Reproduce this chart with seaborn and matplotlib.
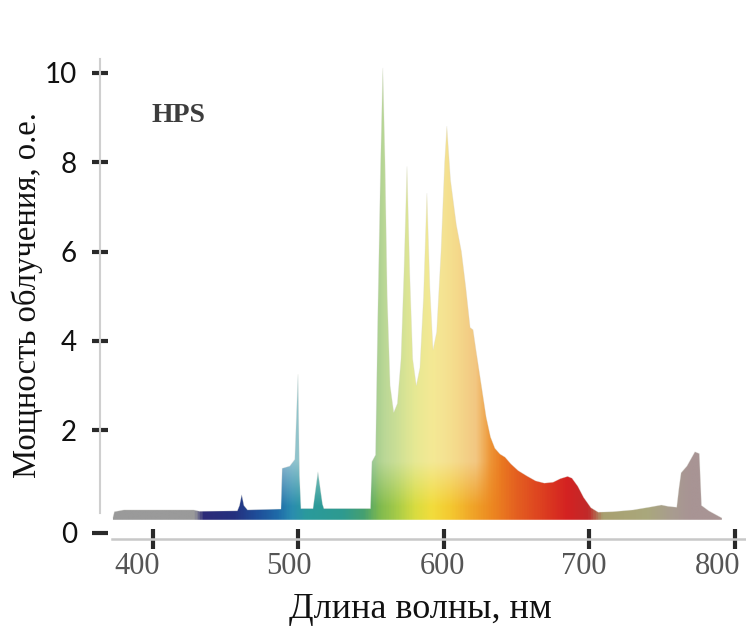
import numpy as np
import pandas as pd
import seaborn as sns
import matplotlib.pyplot as plt
import matplotlib.transforms as mtransforms
from matplotlib.colors import LinearSegmentedColormap, to_rgb

# HPS lamp spectrum
wavelength = [
    372.5, 373.5, 380, 428, 432, 458, 459.5, 461, 462.5, 465,
    488, 488.8, 494, 497.5, 499.7, 500.7, 501.7, 510, 513.4, 516.5,
    517.5, 549.5, 550.5, 553, 554.5, 556.5, 558, 559.5, 561, 563,
    565.5, 568, 570.5, 572.5, 574.6, 576.5, 578.5, 581, 583.5, 586,
    588.3, 590.3, 592.5, 595, 598, 600.5, 602, 604.5, 608.5, 612,
    615, 618, 620, 622, 625.5, 629, 632, 635, 638.5, 642,
    646, 651, 657, 663, 669, 675, 680, 685, 688, 692,
    696, 701, 706, 716, 730, 741, 749.5, 754, 760, 761.5,
    763, 767, 772.5, 775.5, 777, 782, 791,
]
power = [
    0.05, 0.18, 0.22, 0.22, 0.19, 0.2, 0.32, 0.56, 0.32, 0.22,
    0.24, 1.15, 1.2, 1.35, 3.25, 1.0, 0.25, 0.25, 1.07, 0.35,
    0.25, 0.25, 1.3, 1.45, 4.5, 8.0, 10.1, 8.0, 5.0, 3.0,
    2.4, 2.6, 3.6, 5.5, 7.9, 5.5, 3.6, 3.0, 3.4, 5.0,
    7.3, 5.2, 3.8, 4.2, 6.0, 8.0, 8.8, 7.6, 6.6, 6.0,
    5.2, 4.3, 4.25, 3.8, 3.05, 2.3, 1.85, 1.6, 1.47, 1.4,
    1.25, 1.1, 0.98, 0.87, 0.82, 0.84, 0.92, 0.97, 0.93, 0.75,
    0.5, 0.27, 0.17, 0.18, 0.22, 0.28, 0.33, 0.3, 0.28, 0.7,
    1.05, 1.2, 1.52, 1.48, 0.32, 0.2, 0.04,
]

x_ticks = [400, 500, 600, 700, 800]
y_ticks = [2, 4, 6, 8, 10]
y_tick_labels = ["2", "4", "6", "8", "10"]
zero_label = "0"
lamp_name = "HPS"
x_label = "Длина волны, нм"
y_label = "Мощность облучения, о.е."

# colour of the light by wavelength
x_min, x_max = 363.6, 807.6
spectrum_stops = [
    (360, "#9a9a9a"), (428, "#9a9a9a"), (434, "#2c2a78"), (455, "#24307e"),
    (470, "#1f4c98"), (485, "#1e6aa8"), (495, "#2a8cb0"), (505, "#2a9a9c"),
    (530, "#2e9a90"), (545, "#46a070"), (555, "#7cb850"), (568, "#a8cc48"),
    (580, "#d8dc40"), (592, "#f2dc3c"), (605, "#f4c830"), (620, "#f0a428"),
    (635, "#ec8420"), (650, "#e46020"), (670, "#dc3c20"), (685, "#d42222"),
    (700, "#c02a2a"), (710, "#a8a070"), (740, "#aaa87c"), (758, "#a89c90"),
    (770, "#a89494"), (810, "#a89494"),
]
pale_stops = [(360, 0), (478, 0), (485, 0.5), (525, 0.5), (548, 0.35),
              (560, 0.45), (600, 0.5), (622, 0.45), (632, 0.1), (640, 0), (810, 0)]
# scanned labels sit a little left of their ticks (pixels)
x_label_shift = [-16, -10, -2, -6, -17]


def spectrum_image():
    lo, hi = spectrum_stops[0][0], spectrum_stops[-1][0]
    cmap = LinearSegmentedColormap.from_list(
        "light", [((w - lo) / (hi - lo), c) for w, c in spectrum_stops])
    wl_grid = np.linspace(x_min, x_max, 900)
    y_grid = np.linspace(0, 10.5, 600)
    base = cmap((wl_grid - lo) / (hi - lo))[:, :3]
    pale = np.interp(wl_grid, [p[0] for p in pale_stops], [p[1] for p in pale_stops])
    ramp = np.clip((y_grid - 0.3) / 1.0, 0, 1)
    f = (ramp[:, None] * pale[None, :])[..., None]
    tint = np.array(to_rgb("#f6f6f0"))
    return base[None, :, :] * (1 - f) + tint * f


def main():
    sns.set_theme(style="white")
    plt.rcParams["font.family"] = ["Liberation Serif", "DejaVu Sans"]

    df = pd.DataFrame({"wl": wavelength, "power": power})

    fig = plt.figure(figsize=(7.46, 6.26), dpi=100)
    ax = fig.add_axes([100 / 746, 87 / 626, 646 / 746, 511 / 626])
    ax.set_xlim(x_min, x_max)
    ax.set_ylim(-0.43, 11.0)

    area = ax.fill_between(df["wl"], 0, df["power"], facecolor="none", linewidth=0)
    img = ax.imshow(spectrum_image(), extent=[x_min, x_max, 0, 10.5], origin="lower",
                    aspect="auto", interpolation="bilinear", zorder=2)
    img.set_clip_path(area.get_paths()[0], transform=ax.transData)
    sns.lineplot(data=df, x="wl", y="power", ax=ax, color="#d8d8d0",
                 linewidth=0.6, alpha=0.35, zorder=3)
    ax.set_xlabel("")
    ax.set_ylabel("")

    for side in ["top", "right"]:
        ax.spines[side].set_visible(False)
    ax.spines["left"].set_color("#cfcfcf")
    ax.spines["left"].set_linewidth(1.5)
    ax.spines["left"].set_bounds(0.15, 10.3)
    ax.spines["bottom"].set_color("#c8c8c8")
    ax.spines["bottom"].set_linewidth(1.8)
    ax.spines["bottom"].set_bounds(372, x_max)

    ax.set_yticks([-0.29] + y_ticks, [zero_label] + y_tick_labels,
                  fontfamily="Lato", fontsize=20, color="#111111")
    ax.yaxis.get_major_ticks()[0].tick1line.set_visible(False)
    ax.tick_params(axis="y", left=True, direction="inout", length=12, width=3,
                   color="#2a2a2a", pad=10.5)

    ax.set_xticks(x_ticks, [str(t) for t in x_ticks],
                  fontfamily="Liberation Serif", fontsize=22, color="#555555")
    ax.tick_params(axis="x", bottom=True, direction="inout", length=14.5, width=3,
                   color="#2a2a2a", pad=2)
    for lbl, dx in zip(ax.get_xticklabels(), x_label_shift):
        shift = mtransforms.ScaledTranslation(dx / 100, 0, fig.dpi_scale_trans)
        lbl.set_transform(lbl.get_transform() + shift)

    ax.text(399, 9.04, lamp_name, ha="left", va="center", fontsize=20,
            fontweight="bold", color="#3d3d3d", fontfamily="Liberation Serif")

    fig.text(420 / 746, 1 - 618 / 626, x_label, ha="center", va="baseline",
             fontsize=26, fontfamily="Liberation Serif", color="#111111")
    fig.text(27.5 / 746, 1 - 295 / 626, y_label, ha="center", va="center",
             rotation=90, fontsize=23.5, fontfamily="Liberation Serif", color="#111111")

    fig.savefig("out.png", dpi=100, facecolor="white")


if __name__ == "__main__":
    main()
